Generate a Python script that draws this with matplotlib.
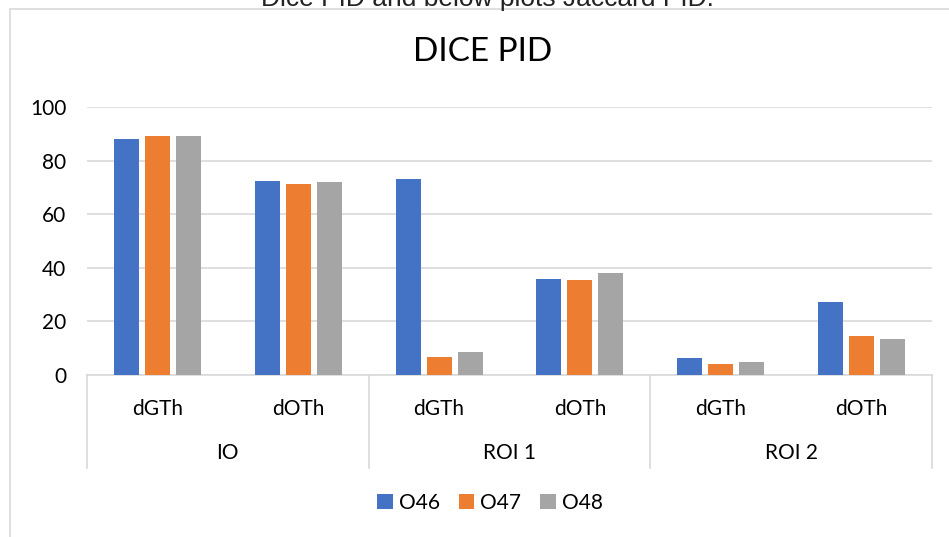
import numpy as np
import matplotlib.pyplot as plt
from matplotlib.patches import Rectangle

plt.rcParams['font.family'] = ['Lato', 'DejaVu Sans']

sub_labels = ['dGTh', 'dOTh', 'dGTh', 'dOTh', 'dGTh', 'dOTh']
group_labels = ['IO', 'ROI 1', 'ROI 2']
series_names = ['O46', 'O47', 'O48']
o46 = [88.1, 72.4, 73.1, 36.0, 6.3, 27.3]
o47 = [89.2, 71.3, 6.7, 35.6, 4.2, 14.4]
o48 = [89.2, 72.2, 8.6, 38.0, 4.7, 13.4]
colors = ['#4472C4', '#ED7D31', '#A5A5A5']

W, H = 949, 537
fig = plt.figure(figsize=(W / 100, H / 100), dpi=100)

# chart area border
fig.patches.append(Rectangle((10 / W, -0.1), 1.2, 1.1 - 9 / H, transform=fig.transFigure,
                             fill=False, edgecolor='#d9d9d9', linewidth=1.2))

# caption of the page, cut off at the top like in the screenshot
fig.text(487 / W, 1 - 6 / H, 'Dice PID and below plots Jaccard PID.', ha='center', va='baseline',
         fontsize=19, family=['Liberation Sans', 'DejaVu Sans'], color='#222222')

ax = fig.add_axes([87 / W, 162 / H, (932 - 87) / W, (375 - 107) / H])

x = np.arange(len(sub_labels))
width = 0.177
step = 0.22
for i, vals in enumerate([o46, o47, o48]):
    ax.bar(x + (i - 1) * step, vals, width, color=colors[i], label=series_names[i], zorder=3)

ax.set_xlim(-0.5, len(sub_labels) - 0.5)
ax.set_ylim(0, 100)
ax.set_yticks(range(0, 101, 20))
ax.tick_params(axis='y', length=0, labelsize=15, pad=15)
ax.grid(axis='y', color='#d9d9d9', linewidth=1.2, zorder=0)
for s in ['top', 'right', 'left']:
    ax.spines[s].set_visible(False)
ax.spines['bottom'].set_color('#d9d9d9')
ax.spines['bottom'].set_linewidth(1.2)

ax.set_xticks(x)
ax.set_xticklabels(sub_labels, fontsize=15)
ax.tick_params(axis='x', length=0, pad=17)

# group labels and separators
trans = ax.get_xaxis_transform()
for g, name in enumerate(group_labels):
    ax.text(2 * g + 0.5, -0.29, name, transform=trans, ha='center', va='center', fontsize=15)
for b in [-0.5, 1.5, 3.5, 5.5]:
    ax.plot([b, b], [0, -0.347], transform=trans, color='#d9d9d9', linewidth=1.2, clip_on=False)

fig.legend(loc='center', bbox_to_anchor=(490 / W, 1 - 503 / H), ncol=3, frameon=False,
           fontsize=15, handlelength=0.75, handleheight=0.75, handletextpad=0.3, columnspacing=0.9)

fig.text(483 / W, 1 - 52 / H, 'DICE PID', ha='center', va='center', fontsize=24)

fig.savefig('out.png', dpi=100)
